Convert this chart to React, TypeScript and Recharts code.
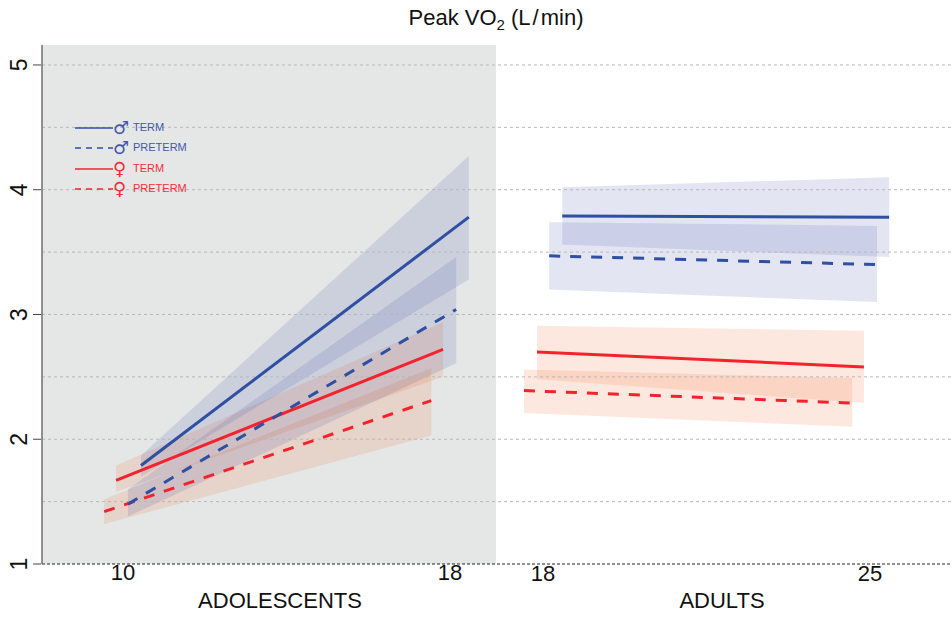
import React from "react";
import {
  ComposedChart, Area, Line, XAxis, YAxis, ReferenceLine, ReferenceArea,
} from "recharts";

const FONT = '"Liberation Sans", Arial, sans-serif';
const BLUE = "#2f4fa2";
const RED = "#f5222d";
const BLUE_BAND = "#4450ab";
const RED_BAND = "#f26428";

// Ages at the two ends of every series [start, end]
const adolMaleTermAges = [10.44, 18.46];
const adolMalePretermAges = [10.12, 18.15];
const adolFemaleTermAges = [9.83, 17.83];
const adolFemalePretermAges = [9.54, 17.54];
const adultMaleTermAges = [18.41, 25.41];
const adultMalePretermAges = [18.13, 25.15];
const adultFemaleTermAges = [17.87, 24.87];
const adultFemalePretermAges = [17.59, 24.62];

// Mean, lower and upper values
const adolMaleTerm = [1.79, 3.78];
const adolMaleTermLo = [1.7, 3.28];
const adolMaleTermHi = [1.87, 4.27];
const adolMalePreterm = [1.48, 3.04];
const adolMalePretermLo = [1.38, 2.61];
const adolMalePretermHi = [1.6, 3.46];
const adolFemaleTerm = [1.67, 2.72];
const adolFemaleTermLo = [1.58, 2.5];
const adolFemaleTermHi = [1.79, 2.94];
const adolFemalePreterm = [1.42, 2.31];
const adolFemalePretermLo = [1.32, 2.03];
const adolFemalePretermHi = [1.52, 2.57];

const adultMaleTerm = [3.79, 3.78];
const adultMaleTermLo = [3.56, 3.46];
const adultMaleTermHi = [4.02, 4.1];
const adultMalePreterm = [3.47, 3.4];
const adultMalePretermLo = [3.2, 3.1];
const adultMalePretermHi = [3.74, 3.71];
const adultFemaleTerm = [2.7, 2.58];
const adultFemaleTermLo = [2.48, 2.29];
const adultFemaleTermHi = [2.91, 2.87];
const adultFemalePreterm = [2.39, 2.29];
const adultFemalePretermLo = [2.21, 2.1];
const adultFemalePretermHi = [2.56, 2.49];

const yTicks = [1, 2, 3, 4, 5];
const gridValues = [1.5, 2, 2.5, 3, 3.5, 4, 4.5, 5];
const adolTicks = [10, 18];
const adultTicks = [18, 25];
const legendLabels = ["TERM", "PRETERM", "TERM", "PRETERM"];
const legendSymbols = ["♂", "♂", "♀", "♀"];

const table = (ages: number[], mean: number[], lo: number[], hi: number[]) =>
  ages.map((age, i) => ({ age, mean: mean[i], range: [lo[i], hi[i]] }));

type S = { name: string; axis: string; color: string; band: string; dash?: string; data: any[] };
const series: S[] = [
  { name: "adol-ft", axis: "adol", color: RED, band: RED_BAND, data: table(adolFemaleTermAges, adolFemaleTerm, adolFemaleTermLo, adolFemaleTermHi) },
  { name: "adol-fp", axis: "adol", color: RED, band: RED_BAND, dash: "11 10", data: table(adolFemalePretermAges, adolFemalePreterm, adolFemalePretermLo, adolFemalePretermHi) },
  { name: "adol-mt", axis: "adol", color: BLUE, band: BLUE_BAND, data: table(adolMaleTermAges, adolMaleTerm, adolMaleTermLo, adolMaleTermHi) },
  { name: "adol-mp", axis: "adol", color: BLUE, band: BLUE_BAND, dash: "11 10", data: table(adolMalePretermAges, adolMalePreterm, adolMalePretermLo, adolMalePretermHi) },
  { name: "adult-mt", axis: "adult", color: BLUE, band: BLUE_BAND, data: table(adultMaleTermAges, adultMaleTerm, adultMaleTermLo, adultMaleTermHi) },
  { name: "adult-mp", axis: "adult", color: BLUE, band: BLUE_BAND, dash: "11 10", data: table(adultMalePretermAges, adultMalePreterm, adultMalePretermLo, adultMalePretermHi) },
  { name: "adult-ft", axis: "adult", color: RED, band: RED_BAND, data: table(adultFemaleTermAges, adultFemaleTerm, adultFemaleTermLo, adultFemaleTermHi) },
  { name: "adult-fp", axis: "adult", color: RED, band: RED_BAND, dash: "11 10", data: table(adultFemalePretermAges, adultFemalePreterm, adultFemalePretermLo, adultFemalePretermHi) },
];

const YTick = (p: any) => (
  <g>
    <line x1={p.x - 1} x2={p.x + 7} y1={p.y} y2={p.y} stroke="#444" strokeWidth={1} />
    <text
      transform={`rotate(-90 ${p.x - 15} ${p.y})`}
      x={p.x - 15}
      y={p.y}
      textAnchor="middle"
      dominantBaseline="central"
      fontFamily={FONT}
      fontSize={23}
      fill="#111"
    >
      {p.payload.value}
    </text>
  </g>
);

const XTick = (p: any) => (
  <text x={p.x} y={p.y + 8} textAnchor="middle" fontFamily={FONT} fontSize={22} fill="#111">
    {p.payload.value}
  </text>
);

const LegendBox = () => (
  <div style={{ position: "absolute", left: 75, top: 118, fontFamily: FONT, fontSize: 11 }}>
    {legendLabels.map((label, i) => {
      const color = i < 2 ? BLUE : RED;
      const text = i < 2 ? "#4558a8" : "#f03038";
      return (
        <div key={i} style={{ position: "absolute", left: 0, top: i * 20.4, height: 20, width: 140, color: text }}>
          <svg width={40} height={20} style={{ position: "absolute", left: 0, top: 0 }}>
            <line x1={0} x2={38} y1={10} y2={10} stroke={color} strokeWidth={1.6} strokeDasharray={i % 2 ? "6 5" : undefined} />
          </svg>
          <span style={{ position: "absolute", left: 38, top: 0, fontFamily: '"DejaVu Sans"', fontSize: 18, lineHeight: "20px" }}>
            {legendSymbols[i]}
          </span>
          <span style={{ position: "absolute", left: 58, top: 2, lineHeight: "14px" }}>{label}</span>
        </div>
      );
    })}
  </div>
);

export default function App() {
  return (
    <div style={{ position: "absolute", left: 0, top: 0, width: 952, height: 618, overflow: "hidden", background: "#fff" }}>
      <ComposedChart width={952} height={618} margin={{ top: 45, right: 0, bottom: 52, left: 0 }}>
        <XAxis
          xAxisId="adol" dataKey="age" type="number" domain={[8.018, 30.28]} allowDataOverflow
          ticks={adolTicks} interval={0} height={1} axisLine={false} tickLine={false} tick={XTick}
          label={{ value: "ADOLESCENTS", position: "bottom", dx: -217, dy: 22, fontFamily: FONT, fontSize: 22, fill: "#111" }}
        />
        <XAxis
          xAxisId="adult" dataKey="age" type="number" domain={[7.27, 26.756]} allowDataOverflow
          ticks={adultTicks} interval={0} height={1} axisLine={false} tickLine={false} tick={XTick}
          label={{ value: "ADULTS", position: "bottom", dx: 225, dy: 21, fontFamily: FONT, fontSize: 22, fill: "#111" }}
        />
        <YAxis
          type="number" domain={[1, 5.16]} allowDataOverflow ticks={yTicks} interval={0} width={42}
          axisLine={{ stroke: "#777", strokeWidth: 1.6 }} tickLine={false} tick={YTick}
        />
        <ReferenceArea xAxisId="adol" x1={8.018} x2={19.125} y1={1} y2={5.16} fill="#e4e7e6" fillOpacity={1} stroke="none" />
        {series.map((s) => (
          <Area
            key={s.name + "-band"} xAxisId={s.axis} data={s.data} dataKey="range" type="linear"
            fill={s.band} fillOpacity={0.15} stroke="none" dot={false} activeDot={false}
            isAnimationActive={false} legendType="none"
          />
        ))}
        {gridValues.map((v) => (
          <ReferenceLine key={v} xAxisId="adol" y={v} stroke="#b8b8b8" strokeWidth={1} strokeDasharray="3 3" />
        ))}
        <ReferenceLine xAxisId="adol" y={1} stroke="#222" strokeWidth={1} strokeDasharray="3 2" />
        {series.map((s) => (
          <Line
            key={s.name} xAxisId={s.axis} data={s.data} dataKey="mean" type="linear"
            stroke={s.color} strokeWidth={3} strokeDasharray={s.dash} dot={false} activeDot={false}
            isAnimationActive={false} legendType="none"
          />
        ))}
      </ComposedChart>
      <LegendBox />
      <div
        style={{
          position: "absolute", left: 296, width: 400, top: 5, textAlign: "center",
          fontFamily: FONT, fontSize: 22, lineHeight: "26px", color: "#111",
        }}
      >
        Peak VO<sub style={{ fontSize: 15, lineHeight: 0 }}>2</sub> (L<span style={{ margin: "0 2px" }}>/</span>min)
      </div>
    </div>
  );
}
